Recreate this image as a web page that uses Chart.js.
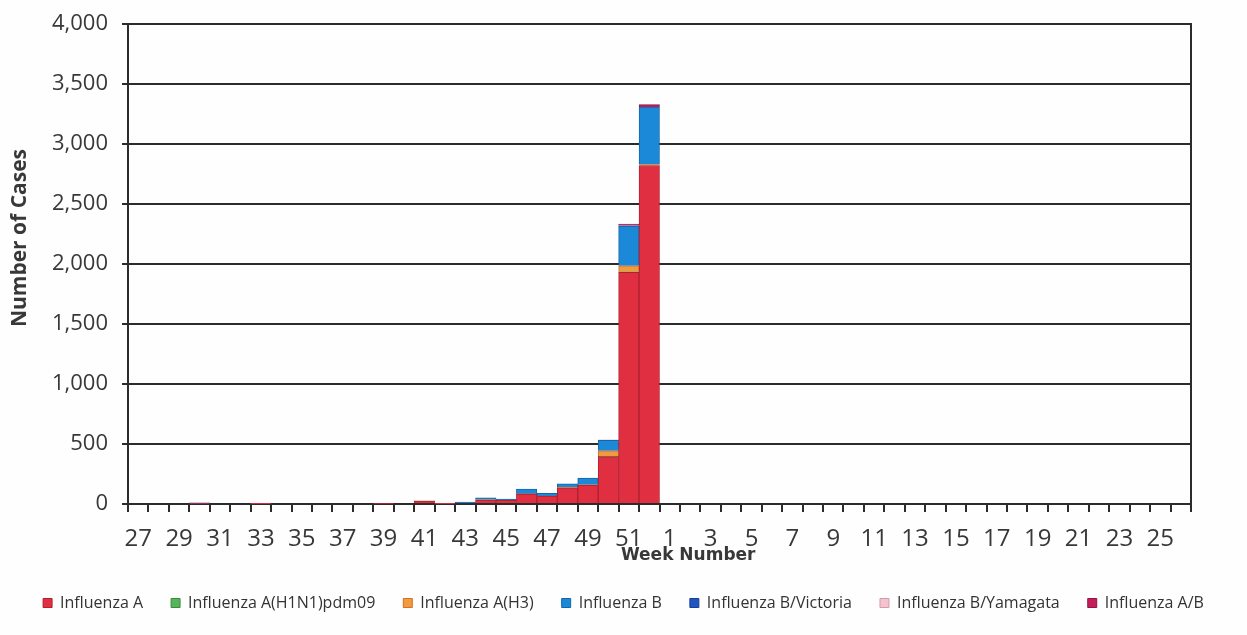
<!DOCTYPE html>
<html>
<head>
<meta charset="utf-8">
<title>Influenza cases by week</title>
<script src="https://cdn.jsdelivr.net/npm/chart.js@4.4.1/dist/chart.umd.min.js"></script>
<style>
  html, body { margin: 0; padding: 0; background: #fefefe; }
  #wrap { width: 1247px; height: 635px; }
</style>
</head>
<body>
<div id="wrap"><canvas id="chart" width="1247" height="635"></canvas></div>
<script>
// season runs week 27 through week 26 of the next year
const weeks = [27, 28, 29, 30, 31, 32, 33, 34, 35, 36, 37, 38, 39, 40, 41, 42, 43, 44, 45, 46, 47, 48, 49, 50, 51, 52,
  1, 2, 3, 4, 5, 6, 7, 8, 9, 10, 11, 12, 13, 14, 15, 16, 17, 18, 19, 20, 21, 22, 23, 24, 25, 26];

const fluA =        [0, 0, 0, 4, 0, 0, 3, 0, 0, 0, 0, 0, 4, 0, 24, 3, 8, 33, 30, 82, 67, 135, 157, 395, 1930, 2820,
  0, 0, 0, 0, 0, 0, 0, 0, 0, 0, 0, 0, 0, 0, 0, 0, 0, 0, 0, 0, 0, 0, 0, 0, 0, 0];
const fluH1N1 =     [0, 0, 0, 0, 0, 0, 0, 0, 0, 0, 0, 0, 0, 0, 0, 0, 0, 0, 0, 0, 0, 0, 0, 3, 5, 0,
  0, 0, 0, 0, 0, 0, 0, 0, 0, 0, 0, 0, 0, 0, 0, 0, 0, 0, 0, 0, 0, 0, 0, 0, 0, 0];
const fluH3 =       [0, 0, 0, 0, 0, 0, 0, 0, 0, 0, 0, 0, 0, 0, 2, 0, 0, 2, 0, 2, 0, 3, 3, 45, 50, 8,
  0, 0, 0, 0, 0, 0, 0, 0, 0, 0, 0, 0, 0, 0, 0, 0, 0, 0, 0, 0, 0, 0, 0, 0, 0, 0];
const fluB =        [0, 0, 0, 0, 0, 0, 3, 0, 0, 0, 0, 0, 0, 0, 0, 0, 8, 17, 10, 40, 22, 30, 55, 88, 330, 480,
  0, 0, 0, 0, 0, 0, 0, 0, 0, 0, 0, 0, 0, 0, 0, 0, 0, 0, 0, 0, 0, 0, 0, 0, 0, 0];
const fluVictoria = [0, 0, 0, 5, 0, 0, 0, 0, 0, 0, 0, 0, 0, 0, 0, 0, 0, 0, 0, 0, 0, 0, 0, 0, 3, 0,
  0, 0, 0, 0, 0, 0, 0, 0, 0, 0, 0, 0, 0, 0, 0, 0, 0, 0, 0, 0, 0, 0, 0, 0, 0, 0];
const fluYamagata = [0, 0, 0, 0, 0, 0, 0, 0, 0, 0, 0, 0, 0, 0, 0, 0, 0, 0, 0, 0, 0, 0, 0, 3, 5, 0,
  0, 0, 0, 0, 0, 0, 0, 0, 0, 0, 0, 0, 0, 0, 0, 0, 0, 0, 0, 0, 0, 0, 0, 0, 0, 0];
const fluAB =       [0, 0, 0, 0, 0, 0, 0, 0, 0, 0, 0, 0, 0, 0, 0, 0, 0, 0, 0, 0, 0, 0, 0, 0, 10, 20,
  0, 0, 0, 0, 0, 0, 0, 0, 0, 0, 0, 0, 0, 0, 0, 0, 0, 0, 0, 0, 0, 0, 0, 0, 0, 0];

const yMax = 4000;
const yStep = 500;

const INK = '#2b2b2b';
const LABEL = '#383838';

const series = [
  { label: 'Influenza A', data: fluA, fill: '#e12f42', edge: '#b0202f' },
  { label: 'Influenza A(H1N1)pdm09', data: fluH1N1, fill: '#56b55a', edge: '#3a8a3e' },
  { label: 'Influenza A(H3)', data: fluH3, fill: '#f39a3e', edge: '#d0702a' },
  { label: 'Influenza B', data: fluB, fill: '#1b88d8', edge: '#1466a8' },
  { label: 'Influenza B/Victoria', data: fluVictoria, fill: '#1f55c0', edge: '#163f90' },
  { label: 'Influenza B/Yamagata', data: fluYamagata, fill: '#f3c4d0', edge: '#d49aac' },
  { label: 'Influenza A/B', data: fluAB, fill: '#c41d5a', edge: '#921440' }
];

// white page, right frame edge and both axis titles
const frame = {
  id: 'frame',
  beforeDraw(chart) {
    const ctx = chart.ctx;
    ctx.save();
    ctx.fillStyle = '#fefefe';
    ctx.fillRect(0, 0, chart.width, chart.height);
    ctx.restore();
  },
  afterDraw(chart) {
    const { ctx, chartArea: a } = chart;
    ctx.save();
    ctx.strokeStyle = INK;
    ctx.lineWidth = 2;
    ctx.beginPath();
    ctx.moveTo(a.right, a.top - 1);
    ctx.lineTo(a.right, a.bottom + 8);
    ctx.stroke();

    ctx.fillStyle = LABEL;
    ctx.textAlign = 'center';
    ctx.textBaseline = 'middle';
    ctx.font = 'bold 17px "DejaVu Sans"';
    ctx.fillText('Week Number', a.left + (a.right - a.left) * 0.527, a.bottom + 52);

    ctx.translate(20, a.top + (a.bottom - a.top) * 0.446);
    ctx.rotate(-Math.PI / 2);
    ctx.font = 'bold 21px "Open Sans"';
    ctx.fillText('Number of Cases', 0, 0);
    ctx.restore();
  }
};

new Chart(document.getElementById('chart').getContext('2d'), {
  type: 'bar',
  data: {
    labels: weeks,
    datasets: series.map(s => ({
      label: s.label,
      data: s.data,
      backgroundColor: s.fill,
      borderColor: s.edge,
      borderWidth: 1,
      barPercentage: 1,
      categoryPercentage: 1
    }))
  },
  options: {
    responsive: false,
    animation: false,
    layout: { padding: { top: 0, left: 4, right: 4, bottom: 14 } },
    plugins: {
      legend: {
        position: 'bottom',
        labels: {
          boxWidth: 9, boxHeight: 9, padding: 28,
          color: '#333', font: { family: 'Open Sans', size: 16 }
        }
      },
      tooltip: { enabled: false }
    },
    scales: {
      x: {
        stacked: true,
        afterFit(scale) { scale.height = 63; },
        grid: { drawOnChartArea: false, drawTicks: true, tickLength: 8, color: INK, lineWidth: 2 },
        border: { display: true, color: INK, width: 2 },
        ticks: {
          autoSkip: false, maxRotation: 0, padding: 13,
          color: LABEL, font: { family: 'Open Sans', size: 24 },
          callback(v, i) { return i % 2 === 0 ? this.getLabelForValue(v) : ''; }
        }
      },
      y: {
        stacked: true,
        min: 0, max: yMax,
        afterFit(scale) { scale.width = 124; },
        grid: { color: INK, lineWidth: 2, tickLength: 6 },
        border: { display: true, color: INK, width: 2 },
        ticks: {
          stepSize: yStep, padding: 14,
          color: LABEL, font: { family: 'Open Sans', size: 22, lineHeight: 0.9 }
        }
      },
      // empty margin on the right, keeps the legend centred on the page
      yRight: {
        position: 'right',
        min: 0, max: yMax,
        afterFit(scale) { scale.width = 52; },
        grid: { drawOnChartArea: false, drawTicks: false },
        border: { display: false },
        ticks: { display: false }
      }
    }
  },
  plugins: [frame]
});
</script>
</body>
</html>
